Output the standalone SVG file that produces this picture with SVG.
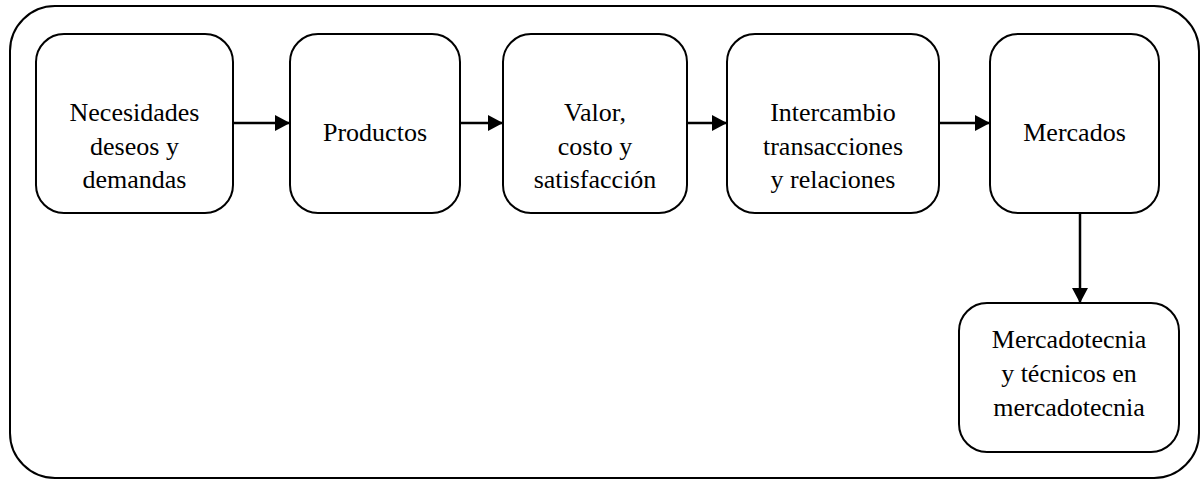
<svg xmlns="http://www.w3.org/2000/svg" width="1201" height="479" viewBox="0 0 1201 479">
  <style>
    .frame { fill: #ffffff; stroke: #000000; stroke-width: 2; }
    .node rect { fill: #ffffff; stroke: #000000; stroke-width: 2; }
    .node text { font-family: "Liberation Serif", "Times New Roman", serif; font-size: 26px; fill: #000000; text-anchor: middle; }
    .link { fill: none; stroke: #000000; stroke-width: 2.5; marker-end: url(#arrow); }
  </style>
  <defs>
    <marker id="arrow" viewBox="0 0 15 16" refX="15" refY="8" markerWidth="15" markerHeight="16" markerUnits="userSpaceOnUse" orient="auto">
      <path d="M0,0 L15,8 L0,16 Z" fill="#000000"/>
    </marker>
  </defs>

  <!-- outer frame -->
  <rect class="frame" x="10" y="6" width="1189" height="472" rx="45" ry="45"/>

  <!-- connectors -->
  <g id="connectors">
    <line class="link" x1="233" y1="123" x2="290" y2="123"/>
    <line class="link" x1="460" y1="123" x2="503" y2="123"/>
    <line class="link" x1="687" y1="123" x2="727" y2="123"/>
    <line class="link" x1="939" y1="123" x2="990" y2="123"/>
    <line class="link" x1="1080" y1="213" x2="1080" y2="303"/>
  </g>

  <g id="necesidades" class="node">
    <rect x="36" y="34" width="197" height="179" rx="28" ry="28"/>
    <text x="134.5" y="121">Necesidades</text>
    <text x="134.5" y="154.5">deseos y</text>
    <text x="134.5" y="188">demandas</text>
  </g>

  <g id="productos" class="node">
    <rect x="290" y="34" width="170" height="179" rx="28" ry="28"/>
    <text x="375" y="141">Productos</text>
  </g>

  <g id="valor" class="node">
    <rect x="503" y="34" width="184" height="179" rx="28" ry="28"/>
    <text x="595" y="121">Valor,</text>
    <text x="595" y="154.5">costo y</text>
    <text x="595" y="188">satisfacción</text>
  </g>

  <g id="intercambio" class="node">
    <rect x="727" y="34" width="212" height="179" rx="28" ry="28"/>
    <text x="833" y="121">Intercambio</text>
    <text x="833" y="154.5">transacciones</text>
    <text x="833" y="188">y relaciones</text>
  </g>

  <g id="mercados" class="node">
    <rect x="990" y="34" width="169" height="179" rx="28" ry="28"/>
    <text x="1074.5" y="141">Mercados</text>
  </g>

  <g id="mercadotecnia" class="node">
    <rect x="959" y="303" width="220" height="149" rx="28" ry="28"/>
    <text x="1069" y="348">Mercadotecnia</text>
    <text x="1069" y="382">y técnicos en</text>
    <text x="1069" y="416">mercadotecnia</text>
  </g>
</svg>
